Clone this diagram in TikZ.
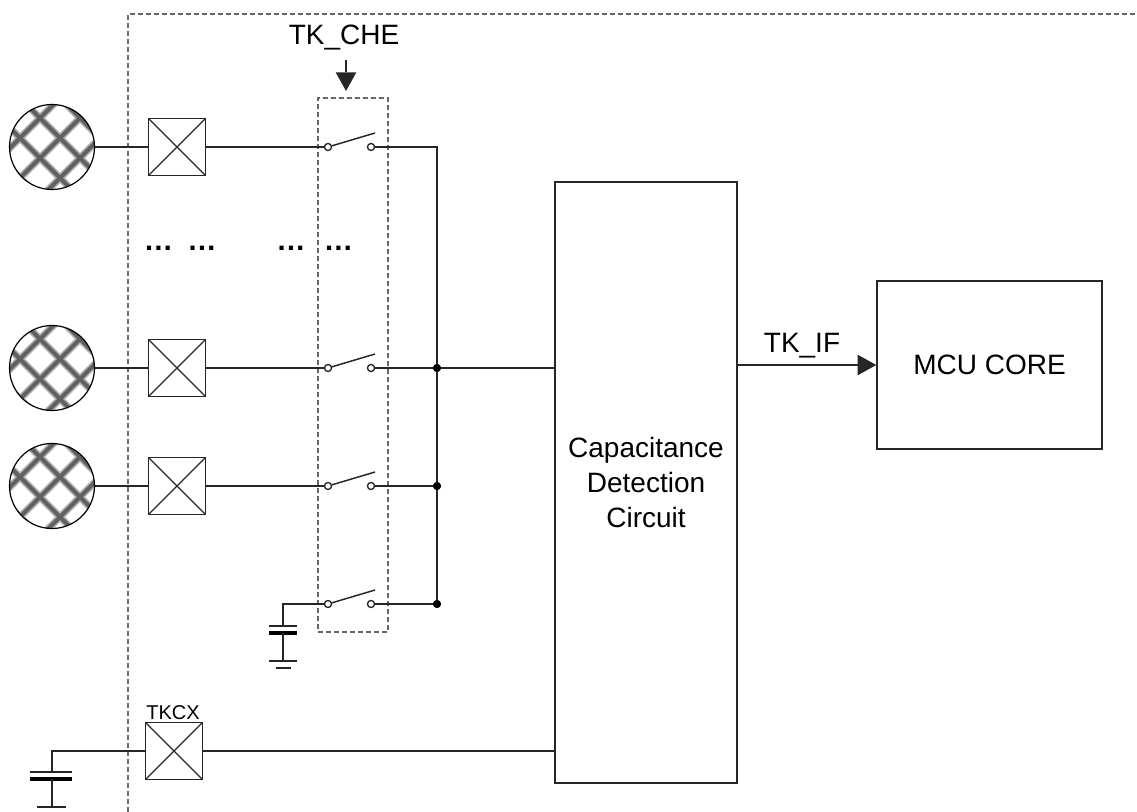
\documentclass[tikz,border=0pt]{standalone}
\usepackage{fontspec}
\setmainfont{Liberation Sans}
\usetikzlibrary{arrows.meta}
\newcommand\mypadhatch{%
  \begin{scope}[shift={(path picture bounding box.center)}]
    \foreach \c in {-97,-57,-17,23,63}{\draw[line width=5.5pt, black!30] (-70,-70+\c) -- (70,70+\c);}
    \foreach \d in {-81,-41,-1,39,79}{\draw[line width=5.5pt, black!30] (-70,70+\d) -- (70,-70+\d);}
    \foreach \c in {-97,-57,-17,23,63}{\draw[line width=3pt, black!62] (-70,-70+\c) -- (70,70+\c);}
    \foreach \d in {-81,-41,-1,39,79}{\draw[line width=3pt, black!62] (-70,70+\d) -- (70,-70+\d);}
  \end{scope}}
\tikzset{
  wire/.style={line width=1.1pt, draw=black!85},
  dashln/.style={line width=0.8pt, draw=black!60, dash pattern=on 3.4pt off 2.6pt},
  xbox/.style={draw=black!85, line width=1.1pt, minimum size=42.5pt, inner sep=0pt,
    path picture={\draw[line width=0.9pt, black!85] (path picture bounding box.north west) -- (path picture bounding box.south east) (path picture bounding box.north east) -- (path picture bounding box.south west);}},
  pad/.style={circle, draw=black, line width=0.9pt, minimum size=63.75pt, inner sep=0pt, path picture={\mypadhatch}},
  swc/.style={circle, draw=black!85, fill=white, line width=0.9pt, minimum size=5.2pt, inner sep=0pt},
  jdot/.style={circle, fill=black, minimum size=6pt, inner sep=0pt},
  blk/.style={draw=black!85, line width=1.1pt, inner sep=0pt, align=center, font=\fontsize{21pt}{26.25pt}\selectfont},
  lbl/.style={inner sep=0pt, anchor=base, font=\fontsize{21pt}{26.25pt}\selectfont},
  slbl/.style={inner sep=0pt, anchor=base, font=\fontsize{15pt}{18pt}\selectfont},
  dots/.style={inner sep=0pt, anchor=base, font=\fontsize{22pt}{26.25pt}\selectfont\bfseries},
  arr/.style={wire, -{Triangle[length=14pt, width=15.5pt, line width=0pt]}},
  plate/.style={line width=1.1pt, draw=black!85},
  tplate/.style={line width=2.8pt, draw=black},
}
\begin{document}
\begin{tikzpicture}[x=0.75pt, y=-0.75pt]
\useasboundingbox (0,0) rectangle (1137,812);
\fill[white] (0,0) rectangle (1137,812);
% outer dashed boundary
\coordinate (obl) at (128,812);
\coordinate (otl) at (128,14);
\coordinate (otr) at (1137,14);
\draw[dashln] (obl) -- (otl) -- (otr);

% switch group dashed box
\node[dashln, draw, minimum width=52.5pt, minimum height=400.5pt, inner sep=0pt] (swbox) at (353,365) {};

% TK_CHE
\node[lbl] (tkche) at (344,45) {TK\_CHE};
\coordinate (ches) at (346,60);
\coordinate (chee) at (346,91);
\draw[arr] (ches) -- (chee);

% pads
\node[pad] (p1) at (52,147) {};
\node[pad] (p2) at (52,368) {};
\node[pad] (p3) at (52,486) {};

% cross boxes
\node[xbox] (b1) at (177,147) {};
\node[xbox] (b2) at (177,368) {};
\node[xbox] (b3) at (177,486) {};
\node[xbox] (bx) at (174,751) {};
\node[slbl] (tkcx) at (173,719) {TKCX};

% switches
\foreach \i/\y in {1/147,2/368,3/486,4/604}{
  \node[swc] (s\i l) at (328,\y) {};
  \node[swc] (s\i r) at (371,\y) {};
  \coordinate (s\i a) at (375,\y-14);
}

% blocks
\node[blk, minimum width=136.5pt, minimum height=450.75pt] (cdc) at (646,482.5) {Capacitance\\Detection\\Circuit};
\node[blk, minimum width=168.75pt, minimum height=126pt] (mcu) at (989.5,365) {MCU CORE};

% junctions
\coordinate (bus1) at (437,147);
\node[jdot] (j2) at (437,368) {};
\node[jdot] (j3) at (437,486) {};
\node[jdot] (j4) at (437,604) {};

% wires
\draw[wire] (p1) -- (b1);
\draw[wire] (p2) -- (b2);
\draw[wire] (p3) -- (b3);
\draw[wire] (b1) -- (s1l);
\draw[wire] (b2) -- (s2l);
\draw[wire] (b3) -- (s3l);
\foreach \i in {1,2,3,4}{\draw[wire] (s\i l) -- (s\i a);}
\draw[wire] (s1r) -- (bus1) -- (j4);
\draw[wire] (s2r) -- (j2);
\draw[wire] (s3r) -- (j3);
\draw[wire] (s4r) -- (j4);
\draw[wire] (j2) -- (j2 -| cdc.west);
\node[jdot] at (j2) {};
\node[jdot] at (j3) {};
\node[jdot] at (j4) {};
\foreach \i in {1,2,3,4}{\node[swc] at (s\i l) {}; \node[swc] at (s\i r) {};}

% ellipses
\node[dots] (e1) at (158.5,251) {…};
\node[dots] (e2) at (202,251) {…};
\node[dots] (e3) at (291,251) {…};
\node[dots] (e4) at (338.5,251) {…};

% internal capacitor
\coordinate (c1) at (283,604);
\coordinate (c1t) at (283,626);
\coordinate (c1b) at (283,633);
\coordinate (c1g) at (283,661);
\draw[wire] (s4l) -- (c1) -- (c1t);
\draw[plate] (269,626) -- (297,626);
\draw[tplate] (269,633) -- (297,633);
\draw[wire] (c1b) -- (c1g);
\draw[plate] (269,661) -- (297,661);
\draw[plate] (276,668) -- (291,668);

% TKCX capacitor
\coordinate (c2) at (52,751);
\coordinate (c2t) at (52,772);
\coordinate (c2b) at (52,779);
\coordinate (c2g) at (52,807);
\draw[wire] (bx) -- (c2) -- (c2t);
\draw[plate] (30,772) -- (72,772);
\draw[tplate] (30,779) -- (72,779);
\draw[wire] (c2b) -- (c2g);
\draw[plate] (37,807) -- (66,807);
\draw[wire] (bx) -- (bx -| cdc.west);

% TK_IF
\draw[arr] (cdc.east |- mcu.west) -- (mcu.west);
\node[lbl] (tkif) at (802,353) {TK\_IF};
\end{tikzpicture}
\end{document}
